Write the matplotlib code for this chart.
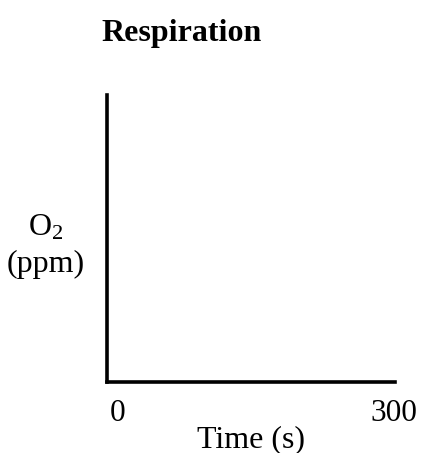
import matplotlib
matplotlib.use("Agg")
import matplotlib.pyplot as plt

plt.rcParams['font.family'] = ['Liberation Serif', 'DejaVu Serif']
plt.rcParams['mathtext.fontset'] = 'custom'
plt.rcParams['mathtext.rm'] = 'Liberation Serif'
plt.rcParams['mathtext.it'] = 'Liberation Serif:italic'

# axis content (empty graph template)
title = "Respiration"
x_ticks = [0, 300]
x_tick_labels = ["0", "300"]
x_label = "Time (s)"
y_label = "O$_2$\n(ppm)"

fig = plt.figure(figsize=(4.24, 4.53), dpi=100)
W, H = 424, 453
ax = fig.add_axes([106.5 / W, 1 - 382 / H, (395 - 106.5) / W, (382 - 95) / H])

ax.set_xlim(-12, 301)
ax.set_ylim(0, 1)
for side in ['top', 'right']:
    ax.spines[side].set_visible(False)
for side in ['left', 'bottom']:
    ax.spines[side].set_linewidth(2.6)
    ax.spines[side].set_capstyle('projecting')

ax.set_xticks(x_ticks)
ax.set_xticklabels(x_tick_labels, fontsize=22.5)
ax.tick_params(axis='x', length=0, pad=12)
ax.set_yticks([])
ax.set_xlabel(x_label, fontsize=23, labelpad=-2)

fig.text(46 / W, 1 - 246 / H, y_label, fontsize=23, ha='center', va='center',
         linespacing=1.3)
fig.text(182 / W, 1 - 34 / H, title, fontsize=23, fontweight='bold',
         ha='center', va='center')

plt.savefig("out.png", dpi=100)
